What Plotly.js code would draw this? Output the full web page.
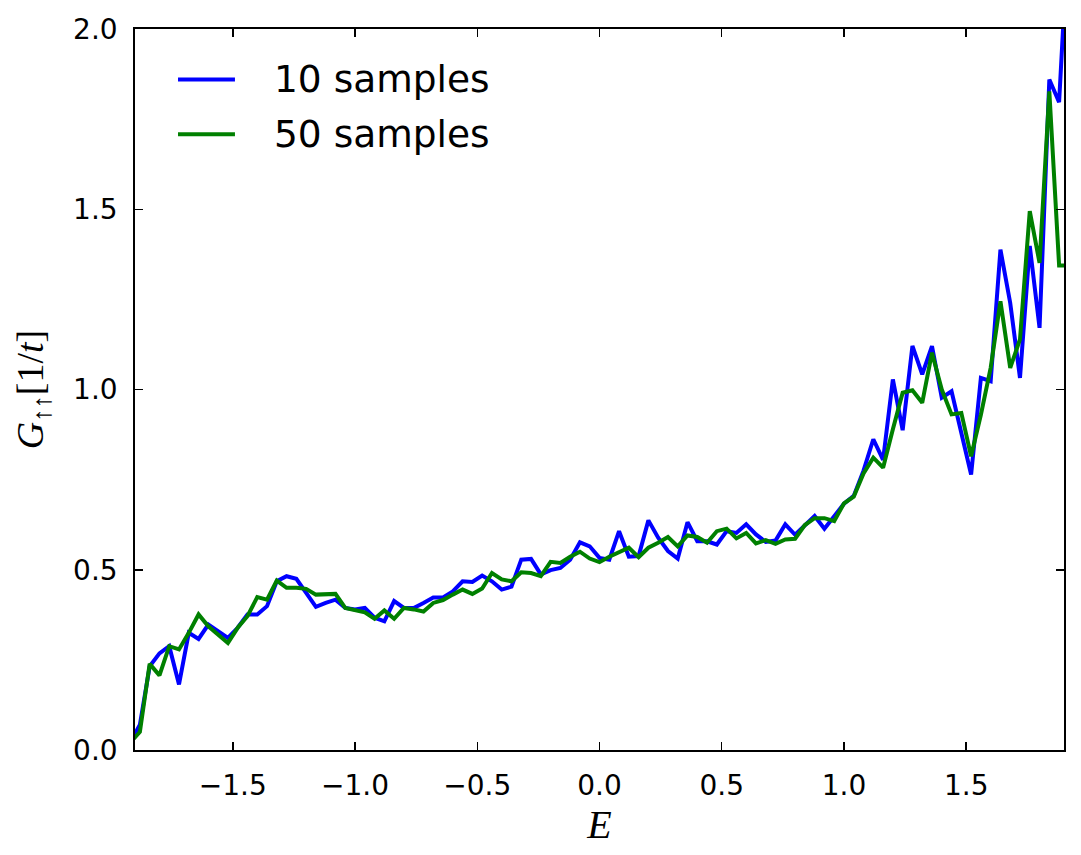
<!DOCTYPE html>
<html>
<head>
<meta charset="utf-8">
<script src="https://cdn.plot.ly/plotly-3.0.1.min.js"></script>
<style>
  html, body { margin: 0; padding: 0; background: #ffffff; }
  #chart { width: 1081px; height: 855px; }
</style>
</head>
<body>
<div id="chart"></div>
<script>
// Energy grid (step 0.04)
const energy = [
  -1.92, -1.88, -1.84, -1.80, -1.76, -1.72, -1.68, -1.64, -1.60, -1.56,
  -1.52, -1.48, -1.44, -1.40, -1.36, -1.32, -1.28, -1.24, -1.20, -1.16,
  -1.12, -1.08, -1.04, -1.00, -0.96, -0.92, -0.88, -0.84, -0.80, -0.76,
  -0.72, -0.68, -0.64, -0.60, -0.56, -0.52, -0.48, -0.44, -0.40, -0.36,
  -0.32, -0.28, -0.24, -0.20, -0.16, -0.12, -0.08, -0.04, 0.00, 0.04,
  0.08, 0.12, 0.16, 0.20, 0.24, 0.28, 0.32, 0.36, 0.40, 0.44,
  0.48, 0.52, 0.56, 0.60, 0.64, 0.68, 0.72, 0.76, 0.80, 0.84,
  0.88, 0.92, 0.96, 1.00, 1.04, 1.08, 1.12, 1.16, 1.20, 1.24,
  1.28, 1.32, 1.36, 1.40, 1.44, 1.48, 1.52, 1.56, 1.60, 1.64,
  1.68, 1.72, 1.76, 1.80, 1.84, 1.88, 1.92
];

// Spin-up Green's function, averaged over 10 disorder samples
const g10 = [
  0.020, 0.070, 0.232, 0.268, 0.288, 0.182, 0.325, 0.308, 0.348, 0.330,
  0.311, 0.339, 0.376, 0.376, 0.399, 0.468, 0.482, 0.475, 0.436, 0.397,
  0.408, 0.417, 0.394, 0.390, 0.394, 0.367, 0.357, 0.413, 0.394, 0.394,
  0.408, 0.423, 0.423, 0.440, 0.468, 0.466, 0.484, 0.468, 0.445, 0.453,
  0.528, 0.530, 0.487, 0.499, 0.505, 0.528, 0.576, 0.565, 0.533, 0.528,
  0.607, 0.536, 0.538, 0.637, 0.589, 0.552, 0.531, 0.632, 0.579, 0.579,
  0.570, 0.607, 0.602, 0.626, 0.598, 0.577, 0.581, 0.626, 0.597, 0.624,
  0.649, 0.614, 0.648, 0.683, 0.705, 0.775, 0.862, 0.805, 1.028, 0.887,
  1.121, 1.042, 1.120, 0.977, 0.995, 0.880, 0.764, 1.032, 1.023, 1.388,
  1.240, 1.032, 1.398, 1.171, 1.860, 1.797, 2.300
];

// Same quantity, averaged over 50 disorder samples
const g50 = [
  0.020, 0.050, 0.239, 0.207, 0.288, 0.279, 0.325, 0.376, 0.343, 0.320,
  0.297, 0.339, 0.371, 0.424, 0.417, 0.470, 0.450, 0.450, 0.447, 0.431,
  0.431, 0.433, 0.394, 0.388, 0.382, 0.364, 0.387, 0.364, 0.394, 0.390,
  0.384, 0.408, 0.416, 0.431, 0.445, 0.433, 0.448, 0.491, 0.473, 0.468,
  0.493, 0.491, 0.482, 0.522, 0.519, 0.536, 0.550, 0.531, 0.521, 0.536,
  0.549, 0.561, 0.535, 0.561, 0.575, 0.591, 0.565, 0.595, 0.591, 0.575,
  0.607, 0.614, 0.587, 0.602, 0.573, 0.582, 0.572, 0.584, 0.586, 0.624,
  0.643, 0.643, 0.635, 0.684, 0.703, 0.767, 0.811, 0.783, 0.890, 0.991,
  0.998, 0.963, 1.102, 1.000, 0.931, 0.935, 0.815, 0.930, 1.060, 1.245,
  1.060, 1.139, 1.495, 1.351, 1.827, 1.344, 1.344
];

const seriesNames = ['10 samples', '50 samples'];
const seriesColors = ['#0000ff', '#008000'];
const xTicks = [-1.5, -1.0, -0.5, 0.0, 0.5, 1.0, 1.5];
const yTicks = [0.0, 0.5, 1.0, 1.5, 2.0];

const traces = [g10, g50].map((ys, i) => ({
  type: 'scatter',
  mode: 'lines',
  x: energy,
  y: ys,
  name: seriesNames[i],
  showlegend: false,
  line: { color: seriesColors[i], width: 4 },
  cliponaxis: true
}));

const sans = 'DejaVu Sans, Bitstream Vera Sans, sans-serif';
const serif = 'Liberation Serif, DejaVu Serif, serif';
const tickFont = { family: sans, size: 28, color: '#000000' };

const axisCommon = {
  showgrid: false,
  zeroline: false,
  showline: true,
  linecolor: '#000000',
  linewidth: 1.8,
  mirror: 'ticks',
  ticks: 'inside',
  ticklen: 8,
  tickwidth: 1.5,
  tickcolor: '#000000',
  tickfont: tickFont,
  tickformat: '.1f'
};

// Hand-placed legend: short line samples plus labels, top-left inside the frame
const legendRows = [0.930, 0.854];
const shapes = legendRows.map((yy, i) => ({
  type: 'line', xref: 'paper', yref: 'paper',
  x0: 0.0463, x1: 0.1076, y0: yy, y1: yy,
  line: { color: seriesColors[i], width: 4 }
}));
const annotations = legendRows.map((yy, i) => ({
  xref: 'paper', yref: 'paper', x: 0.1475, y: yy,
  xanchor: 'left', yanchor: 'middle', showarrow: false,
  text: seriesNames[i],
  font: { family: sans, size: 37.5, color: '#000000' }
}));

const layout = {
  width: 1081,
  height: 855,
  margin: { l: 135, r: 17, t: 29, b: 105 },
  paper_bgcolor: '#ffffff',
  plot_bgcolor: '#ffffff',
  showlegend: false,
  xaxis: Object.assign({}, axisCommon, {
    range: [-1.9, 1.9],
    tickvals: xTicks,
    ticklabelstandoff: 10,
    title: { text: '<i>E</i>', font: { family: serif, size: 40, color: '#000000' }, standoff: 0 }
  }),
  yaxis: Object.assign({}, axisCommon, {
    range: [0, 2.0],
    tickvals: yTicks,
    ticklabelstandoff: 10,
    title: { text: '<i>G</i><sub>↑↑</sub>[1/<i>t</i>]', font: { family: serif, size: 38, color: '#000000' }, standoff: 18 }
  }),
  shapes: shapes,
  annotations: annotations
};

Plotly.newPlot('chart', traces, layout, { displayModeBar: false, staticPlot: true });
</script>
</body>
</html>
